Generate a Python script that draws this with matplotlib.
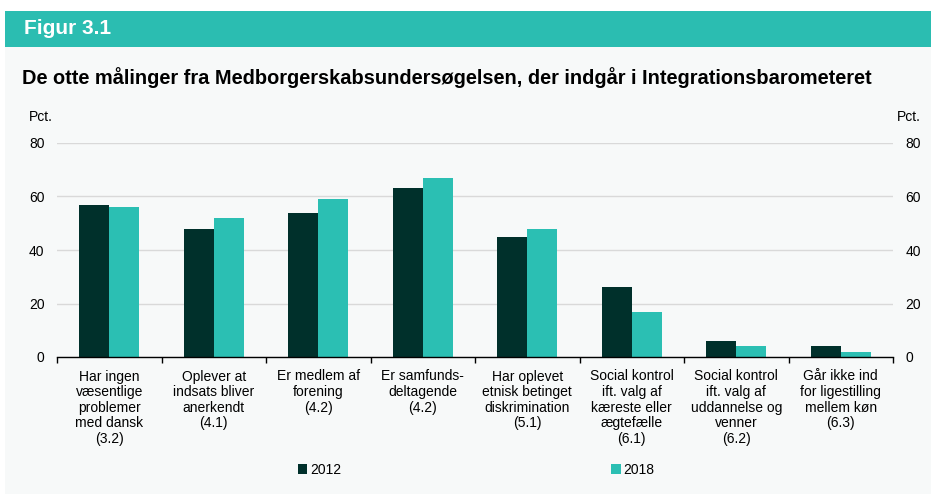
import numpy as np
import matplotlib.pyplot as plt
from matplotlib.patches import Rectangle

plt.rcParams['font.family'] = ['Liberation Sans', 'DejaVu Sans']

categories = [
    "Har ingen\nvæsentlige\nproblemer\nmed dansk\n(3.2)",
    "Oplever at\nindsats bliver\nanerkendt\n(4.1)",
    "Er medlem af\nforening\n(4.2)",
    "Er samfunds-\ndeltagende\n(4.2)",
    "Har oplevet\netnisk betinget\ndiskrimination\n(5.1)",
    "Social kontrol\nift. valg af\nkæreste eller\nægtefælle\n(6.1)",
    "Social kontrol\nift. valg af\nuddannelse og\nvenner\n(6.2)",
    "Går ikke ind\nfor ligestilling\nmellem køn\n(6.3)",
]
vals_2012 = [57, 48, 54, 63, 45, 26, 6, 4]
vals_2018 = [56, 52, 59, 67, 48, 17, 4, 2]
yticks = [0, 20, 40, 60, 80]

dark = '#00302b'
teal = '#2bbfb3'
bg = '#f7f9f9'

fig = plt.figure(figsize=(9.31, 4.94), dpi=100)
W, H = 931, 494

# panel background and header band
fig.patches.append(Rectangle((5 / W, 0), 1 - 5 / W, 1 - 47 / H, transform=fig.transFigure,
                             facecolor=bg, edgecolor='none', zorder=-2))
fig.patches.append(Rectangle((5 / W, 1 - 47 / H), 1 - 5 / W, 36 / H, transform=fig.transFigure,
                             facecolor='#2bbdb1', edgecolor='none', zorder=-2))
fig.text(24 / W, 1 - 29 / H, "Figur 3.1", color='white', fontsize=15, fontweight='bold',
         va='center', ha='left')
fig.text(22 / W, 1 - 78 / H,
         "De otte målinger fra Medborgerskabsundersøgelsen, der indgår i Integrationsbarometeret",
         fontsize=14.4, fontweight='bold', va='center', ha='left')
fig.text(29 / W, 1 - 117 / H, "Pct.", fontsize=10, va='center', ha='left')
fig.text(921 / W, 1 - 117 / H, "Pct.", fontsize=10, va='center', ha='right')

ax = fig.add_axes([57 / W, 1 - 357 / H, (893 - 57) / W, (357 - 143) / H])
ax.set_facecolor('none')
x = np.arange(len(categories))
bw = 0.287
ax.bar(x - bw / 2, vals_2012, bw, color=dark, label='2012', zorder=3)
ax.bar(x + bw / 2, vals_2018, bw, color=teal, label='2018', zorder=3)

ax.set_xlim(-0.5, len(categories) - 0.5)
ax.set_ylim(0, 80)
ax.set_yticks(yticks)
ax.grid(axis='y', color='#d9d9d9', linewidth=1, zorder=0)
for s in ['top', 'right', 'left']:
    ax.spines[s].set_visible(False)
ax.spines['bottom'].set_color('black')
ax.spines['bottom'].set_linewidth(1)
ax.spines['bottom'].set_zorder(4)

ax.set_xticks(x)
ax.set_xticklabels(categories, fontsize=10, linespacing=1.15, va='top')
ax.set_xticks(np.arange(-0.5, len(categories)), minor=True)
ax.tick_params(axis='x', which='major', length=0, pad=9)
ax.tick_params(axis='x', which='minor', length=4, width=1, color='black')
ax.tick_params(axis='y', length=0, labelsize=10, pad=9)

ax2 = ax.twinx()
ax2.set_ylim(0, 80)
ax2.set_yticks(yticks)
ax2.tick_params(axis='y', length=0, labelsize=10, pad=9)
for s in ax2.spines.values():
    s.set_visible(False)

fig.legend(loc='center', bbox_to_anchor=(476 / W, 1 - 470 / H), ncol=2, frameon=False,
           fontsize=10, handlelength=0.7, handleheight=0.7, handletextpad=0.2,
           columnspacing=19.4)

fig.savefig('out.png', dpi=100, facecolor='white')
